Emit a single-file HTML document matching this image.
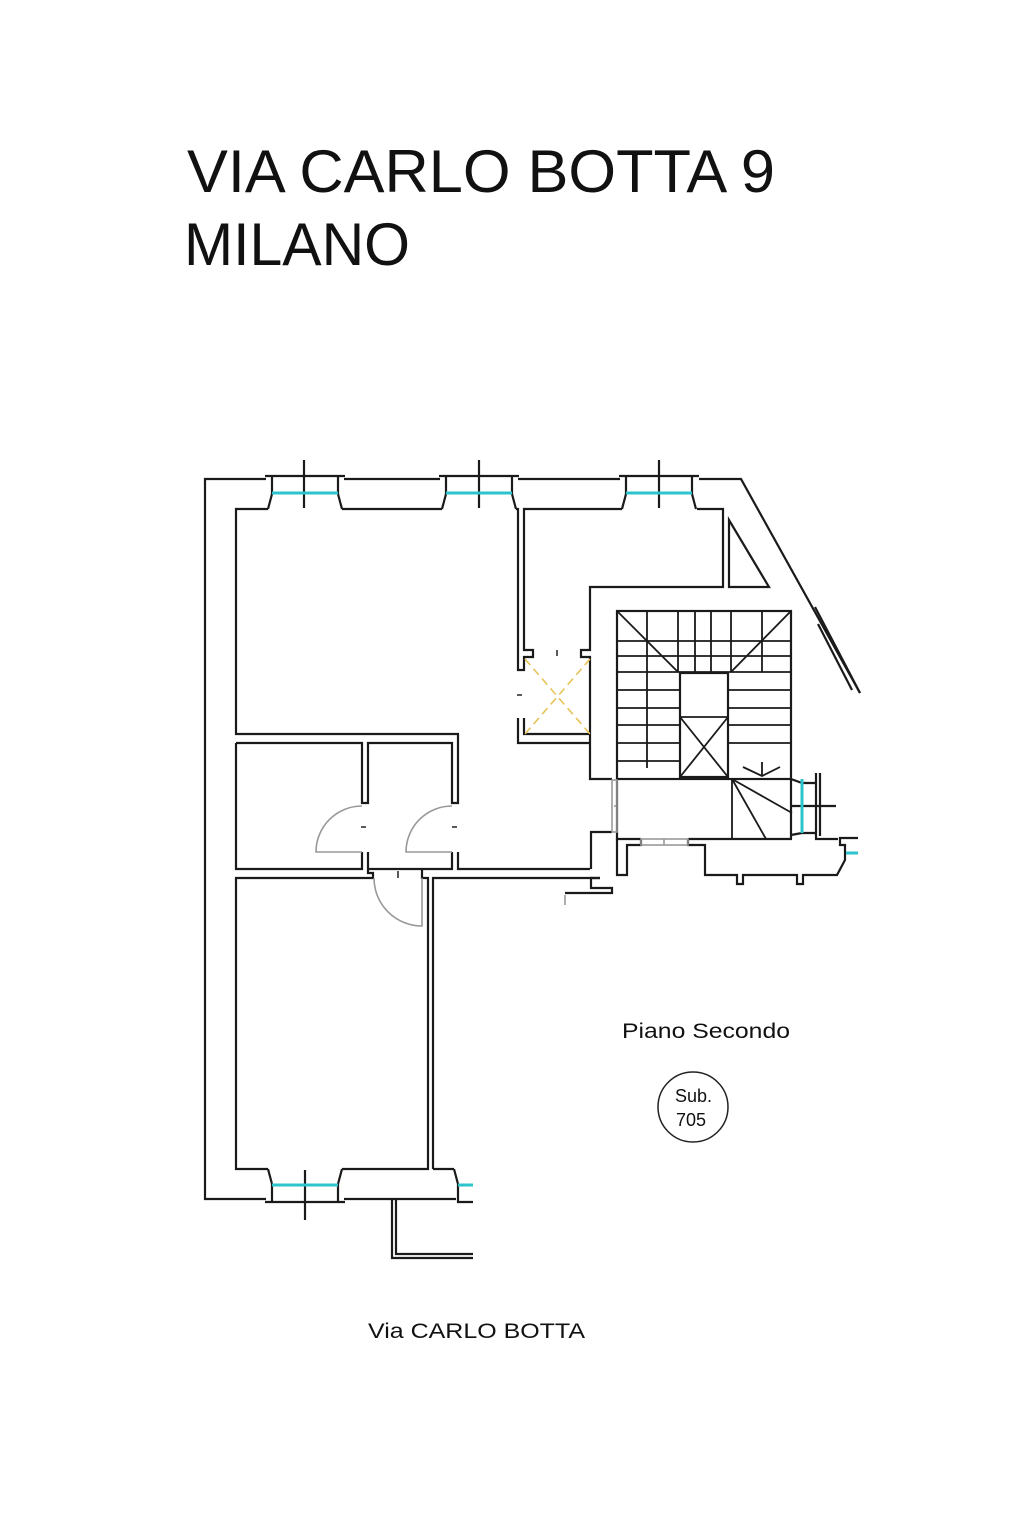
<!DOCTYPE html>
<html><head><meta charset="utf-8"><style>
html,body{margin:0;padding:0;background:#fff}
svg{display:block}
text{font-family:"Liberation Sans",Arial,sans-serif;fill:#111}
</style></head><body>
<svg width="1023" height="1535" viewBox="0 0 1023 1535" xmlns="http://www.w3.org/2000/svg">
<rect width="1023" height="1535" fill="#fff"/>
<text x="187" y="192" font-size="60" textLength="588" lengthAdjust="spacingAndGlyphs">VIA CARLO BOTTA 9</text>
<text x="184" y="265" font-size="60" textLength="226" lengthAdjust="spacingAndGlyphs">MILANO</text>

<g fill="none" stroke="#1a1a1a" stroke-width="2.2" stroke-linejoin="miter">
<!-- outer walls top -->
<polyline points="266,479 205,479 205,1199 266,1199"/>
<line x1="344" y1="479" x2="440" y2="479"/>
<line x1="518" y1="479" x2="620" y2="479"/>
<polyline points="699,479 741,479 860,693"/>
<polyline points="815,607 860,693"/>
<polyline points="818,624 852,690"/>
<!-- inner top -->
<polyline points="268,509 236,509 236,734 458,734 458,743"/>
<line x1="342" y1="509" x2="442" y2="509"/>
<polyline points="516,509 518,509 518,670 524,670 524,657 533,657 533,650 524,650 524,509 622,509"/>
<polyline points="697,509 723,509 723,587 590,587 590,650 581,650 581,657 590,657 590,779 612,779"/>
<polygon points="729,520 729,587 769,587"/>
<polyline points="518,718 518,743 590,743"/>
<polyline points="524,718 524,734 590,734"/>

<!-- windows top -->
<g id="w">
<line x1="265" y1="476" x2="345" y2="476"/>
<polyline points="272,476 272,494 268,509"/>
<polyline points="338,476 338,494 342,509"/>
</g>
<use href="#w" x="174"/>
<use href="#w" x="354"/>
<line x1="304" y1="460" x2="304" y2="508"/>
<line x1="479" y1="460" x2="479" y2="508"/>
<line x1="659" y1="460" x2="659" y2="508"/>

<!-- small rooms -->
<polyline points="236,743 362,743 362,803 368,803 368,743 452,743 452,803 458,803 458,743"/>
<polyline points="362,852 362,869 236,869 236,743"/>
<polyline points="368,852 368,869"/>
<polyline points="452,852 452,869 368,869"/>
<polyline points="458,852 458,869 590,869"/>
<polyline points="368,869 368,873 373,873 373,878 236,878 236,1169 268,1169"/>
<polyline points="422,869 422,878 428,878 428,1169 342,1169"/>
<polyline points="433,1169 433,878 600,878"/>
<polyline points="433,1169 454,1169"/>
<!-- bottom windows -->
<line x1="265" y1="1202" x2="345" y2="1202"/>
<polyline points="268,1169 272,1184 272,1202"/>
<polyline points="342,1169 338,1184 338,1202"/>
<line x1="344" y1="1199" x2="456" y2="1199"/>
<polyline points="454,1169 458,1184 458,1202 473,1202"/>
<line x1="305" y1="1170" x2="305" y2="1220"/>
<polyline points="392,1199 392,1258 473,1258"/>
<polyline points="396,1199 396,1254 473,1254"/>

<!-- stair -->
<rect x="617" y="611" width="174" height="168"/>
<g stroke-width="1.8">
<line x1="647" y1="611" x2="647" y2="768"/>
<line x1="678" y1="611" x2="678" y2="672"/>
<line x1="695" y1="611" x2="695" y2="672"/>
<line x1="711" y1="611" x2="711" y2="672"/>
<line x1="731" y1="611" x2="731" y2="672"/>
<line x1="762" y1="611" x2="762" y2="672"/>
<line x1="617" y1="641" x2="791" y2="641"/>
<line x1="617" y1="656" x2="791" y2="656"/>
<line x1="617" y1="672" x2="791" y2="672"/>
<line x1="617" y1="690" x2="680" y2="690"/><line x1="728" y1="690" x2="791" y2="690"/>
<line x1="617" y1="708" x2="680" y2="708"/><line x1="728" y1="708" x2="791" y2="708"/>
<line x1="617" y1="725" x2="680" y2="725"/><line x1="728" y1="725" x2="791" y2="725"/>
<line x1="617" y1="743" x2="680" y2="743"/><line x1="728" y1="743" x2="791" y2="743"/>
<line x1="617" y1="761" x2="680" y2="761"/>
<line x1="617" y1="611" x2="678" y2="672"/>
<line x1="791" y1="611" x2="731" y2="672"/>
<rect x="680" y="673" width="48" height="104" stroke-width="2.2"/>
<line x1="680" y1="717" x2="728" y2="717"/>
<line x1="680" y1="717" x2="728" y2="777"/>
<line x1="728" y1="717" x2="680" y2="777"/>
<polyline points="743,767 762,776 780,767"/>
<line x1="762" y1="762" x2="762" y2="776"/>
<line x1="732" y1="779" x2="732" y2="839"/>
<line x1="732" y1="779" x2="766" y2="839"/>
<line x1="732" y1="779" x2="792" y2="813"/>
</g>
<polyline points="617,779 617,839 641,839"/>
<line x1="688" y1="839" x2="792" y2="839"/>
<polyline points="791,779 791,839"/>
<polyline points="791,779 802,783 816,783"/>
<polyline points="791,835 802,833 816,833"/>
<polyline points="816,773 816,839 838,839"/>
<line x1="820" y1="773" x2="820" y2="836"/>
<line x1="791" y1="806" x2="836" y2="806"/>
<!-- lower right jagged -->
<polyline points="612,832 591,832 591,869"/>
<polyline points="565,893 612,893 612,888 591,888 591,878 600,878"/>
<polyline points="617,839 617,875 627,875 627,845 641,845 641,839"/>
<polyline points="688,839 688,845 705,845 705,875 737,875 737,884 743,884 743,875 797,875 797,884 803,884 803,875 837,875 845,860 845,845 840,845 840,838 858,838"/>
</g>
<!-- gray doors -->
<g fill="none" stroke="#999" stroke-width="1.6">
<path d="M362,806 A46,46 0 0 0 316,852 L362,852"/>
<path d="M452,806 A46,46 0 0 0 406,852 L452,852"/>
<path d="M374,878 A48,48 0 0 0 422,926 L422,878"/>
<rect x="612" y="780" width="5" height="52"/>
<line x1="614" y1="806" x2="616" y2="806"/>
<rect x="641" y="839" width="47" height="6"/>
<line x1="664" y1="839" x2="664" y2="845"/>
<polyline points="565,905 565,895"/>
</g>
<g stroke="#222" stroke-width="1.5">
<line x1="361" y1="827" x2="366" y2="827"/>
<line x1="452" y1="827" x2="457" y2="827"/>
<line x1="398" y1="871" x2="398" y2="878"/>
<line x1="517" y1="695" x2="522" y2="695"/>
<line x1="557" y1="650" x2="557" y2="656"/>
</g>
<!-- yellow dashed -->
<g stroke="#e7c35a" stroke-width="1.6" stroke-dasharray="8,5">
<line x1="525" y1="659" x2="590" y2="734"/>
<line x1="590" y1="659" x2="525" y2="734"/>
</g>
<!-- cyan glass -->
<g stroke="#2bc4cc" stroke-width="3">
<line x1="272" y1="493" x2="338" y2="493"/>
<line x1="446" y1="493" x2="512" y2="493"/>
<line x1="626" y1="493" x2="692" y2="493"/>
<line x1="272" y1="1185" x2="338" y2="1185"/>
<line x1="458" y1="1185" x2="473" y2="1185"/>
<line x1="802" y1="779" x2="802" y2="833"/>
<line x1="846" y1="853" x2="858" y2="853"/>
</g>

<text x="622" y="1038" font-size="21" textLength="168" lengthAdjust="spacingAndGlyphs">Piano Secondo</text>
<circle cx="693" cy="1107" r="35" fill="none" stroke="#222" stroke-width="1.5"/>
<text x="675" y="1102" font-size="18">Sub.</text>
<text x="676" y="1126" font-size="18">705</text>
<text x="368" y="1338" font-size="21" textLength="217" lengthAdjust="spacingAndGlyphs">Via CARLO BOTTA</text>
</svg>
</body></html>
